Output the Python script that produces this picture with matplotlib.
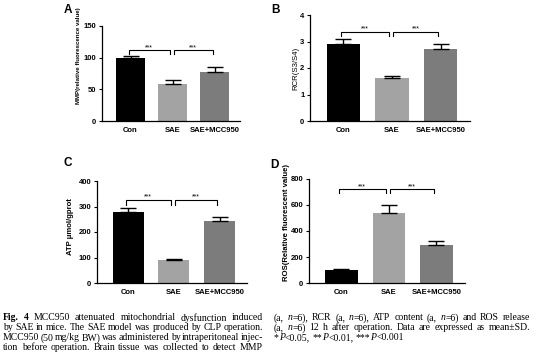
import matplotlib
matplotlib.use("Agg")
import matplotlib.pyplot as plt

plt.rcParams['font.family'] = ['Liberation Sans', 'DejaVu Sans']

groups = ['Con', 'SAE', 'SAE+MCC950']
bar_colors = ['#000000', '#a3a3a3', '#7c7c7c']

# panel values (mean, upper SD)
mmp_mean = [100, 58, 78]
mmp_sd = [2, 6, 8]
rcr_mean = [2.92, 1.62, 2.72]
rcr_sd = [0.18, 0.08, 0.18]
atp_mean = [280, 90, 245]
atp_sd = [15, 5, 12]
ros_mean = [100, 540, 290]
ros_sd = [4, 62, 30]

W, H = 536, 357
fig = plt.figure(figsize=(W / 100, H / 100), dpi=100)


def px_axes(l, r, t, b):
    return fig.add_axes([l / W, 1 - b / H, (r - l) / W, (b - t) / H])


def panel(ax, mean, sd, ymax, step, ylabel, letter, lxy, brk, ylab_bold=True,
          ylab_x=-0.3, ylab_y=0.5, ylab_fs=5.6):
    x = range(len(groups))
    ax.bar(x, mean, width=0.68, color=bar_colors)
    ax.errorbar(x, mean, yerr=[[0] * len(sd), sd], fmt='none', ecolor='black',
                elinewidth=1.0, capsize=6, capthick=1.0)
    ax.set_xlim(-0.68, 2.6)
    ax.set_ylim(0, ymax)
    ax.set_yticks([step * i for i in range(int(round(ymax / step)) + 1)])
    ax.set_xticks(list(x))
    ax.set_xticklabels(groups, fontsize=5.5, fontweight='bold')
    for lab in ax.get_yticklabels():
        lab.set_fontsize(5.5)
        lab.set_fontweight('bold')
    ax.tick_params(axis='x', length=0, pad=4)
    ax.tick_params(axis='y', length=2.5, width=0.8, pad=1.5)
    for s in ['top', 'right']:
        ax.spines[s].set_visible(False)
    for s in ['left', 'bottom']:
        ax.spines[s].set_linewidth(0.9)
    ax.set_ylabel(ylabel, fontsize=ylab_fs, fontweight='bold' if ylab_bold else 'normal')
    ax.yaxis.set_label_coords(ylab_x, ylab_y)
    # significance brackets
    top, drop = brk
    for x0, x1 in [(-0.05, 0.93), (1.02, 1.95)]:
        ax.plot([x0, x0, x1, x1], [top - drop, top, top, top - drop], color='black', lw=0.8,
                clip_on=False)
        ax.text((x0 + x1) / 2, top + drop * 0.6, '***', ha='center', va='center', fontsize=5)
    fig.text(lxy[0] / W, 1 - lxy[1] / H, letter, fontsize=8.5, fontweight='bold',
             ha='left', va='center')


axA = px_axes(102, 240, 26, 121)
panel(axA, mmp_mean, mmp_sd, 150, 50, 'MMP(relative fluorescence value)', 'A', (64, 10),
      (112, 6), ylab_x=-0.15, ylab_y=0.69, ylab_fs=4.4)
axB = px_axes(310, 470, 15, 121)
panel(axB, rcr_mean, rcr_sd, 4, 1, 'RCR(S3/S4)', 'B', (271, 10), (3.37, 0.17),
      ylab_bold=False, ylab_x=-0.065)
axC = px_axes(97, 247, 181, 283)
panel(axC, atp_mean, atp_sd, 400, 100, 'ATP μmol/gprot', 'C', (64, 163), (325, 20),
      ylab_x=-0.15, ylab_y=0.55)
axD = px_axes(309, 465, 179, 283)
panel(axD, ros_mean, ros_sd, 800, 200, 'ROS(Relative fluorescent value)', 'D', (270, 165),
      (725, 30), ylab_x=-0.125, ylab_y=0.58)

# caption, justified by hand
renderer = fig.canvas.get_renderer()
cap_fs = 7.0
SERIF = 'Liberation Serif'


def measure(txt, kw):
    t = fig.text(0, 0, txt, fontsize=cap_fs, family=SERIF, **kw)
    w = t.get_window_extent(renderer).width
    t.remove()
    return w


def parse(line):
    # words split on spaces; text between '_' is italic
    words = []
    for wd in line.split(' '):
        runs = []
        for i, piece in enumerate(wd.split('_')):
            if piece:
                runs.append((piece, {'style': 'italic'} if i % 2 else {}))
        words.append(runs)
    return words


def draw_line(line, x0, x1, y, justify=True, bold_first=0):
    words = parse(line)
    for k in range(bold_first):
        words[k] = [(t, dict(kw, weight='bold')) for t, kw in words[k]]
    widths = [sum(measure(t, kw) for t, kw in wd) for wd in words]
    gap = measure('a a', {}) - 2 * measure('a', {})
    if justify and len(words) > 1:
        gap = (x1 - x0 - sum(widths)) / (len(words) - 1)
    x = x0
    for wd, w in zip(words, widths):
        xx = x
        for t, kw in wd:
            fig.text(xx / W, 1 - y / H, t, fontsize=cap_fs, family=SERIF, va='center',
                     ha='left', **kw)
            xx += measure(t, kw)
        x += w + gap


left_lines = [
    'Fig. 4 MCC950 attenuated mitochondrial dysfunction induced',
    'by SAE in mice. The SAE model was produced by CLP operation.',
    'MCC950 (50 mg/kg BW) was administered by intraperitoneal injec-',
    'tion before operation. Brain tissue was collected to detect MMP',
]
right_lines = [
    '(a, _n_=6), RCR (a, _n_=6), ATP content (a, _n_=6) and ROS release',
    '(a, _n_=6) 12 h after operation. Data are expressed as mean\u00b1SD.',
    '*_P_<0.05, **_P_<0.01, ***_P_<0.001',
]
left_y = [318, 328, 338, 347.5]
right_y = [318, 328, 338]
for i, (ln, y) in enumerate(zip(left_lines, left_y)):
    draw_line(ln, 3, 263, y, bold_first=2 if i == 0 else 0)
for i, (ln, y) in enumerate(zip(right_lines, right_y)):
    draw_line(ln, 274, 530, y, justify=(i < 2))

fig.savefig('out.png', dpi=100)
